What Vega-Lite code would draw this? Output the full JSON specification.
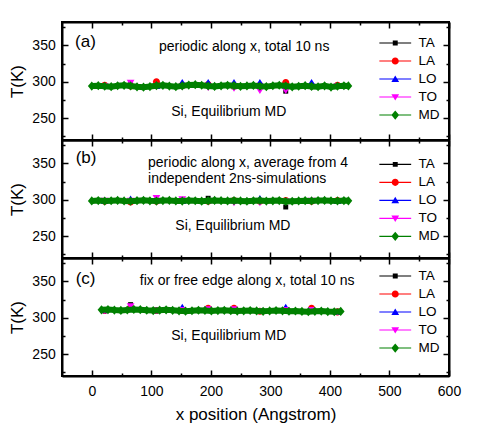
{
  "$schema": "https://vega.github.io/schema/vega-lite/v6.json",
  "background": "white",
  "padding": {"left": 7, "top": 20, "right": 5, "bottom": 5},
  "spacing": 0,
  "bounds": "flush",
  "datasets": {
    "a": [
      {"s":"TA","x":21.7,"T":294},{"s":"TA","x":65.2,"T":296},{"s":"TA","x":108.6,"T":295},{"s":"TA","x":152.0,"T":294},{"s":"TA","x":195.5,"T":295},{"s":"TA","x":238.9,"T":293},{"s":"TA","x":282.4,"T":294},{"s":"TA","x":325.8,"T":287},{"s":"TA","x":369.2,"T":295},{"s":"TA","x":412.7,"T":294},
      {"s":"LA","x":21.7,"T":295},{"s":"LA","x":65.2,"T":294},{"s":"LA","x":108.6,"T":300},{"s":"LA","x":152.0,"T":295},{"s":"LA","x":195.5,"T":296},{"s":"LA","x":238.9,"T":294},{"s":"LA","x":282.4,"T":295},{"s":"LA","x":325.8,"T":299},{"s":"LA","x":369.2,"T":294},{"s":"LA","x":412.7,"T":295},
      {"s":"LO","x":21.7,"T":294},{"s":"LO","x":65.2,"T":295},{"s":"LO","x":108.6,"T":294},{"s":"LO","x":152.0,"T":299},{"s":"LO","x":195.5,"T":299},{"s":"LO","x":238.9,"T":299},{"s":"LO","x":282.4,"T":299},{"s":"LO","x":325.8,"T":294},{"s":"LO","x":369.2,"T":299},{"s":"LO","x":412.7,"T":294},
      {"s":"TO","x":21.7,"T":294},{"s":"TO","x":65.2,"T":299},{"s":"TO","x":108.6,"T":294},{"s":"TO","x":152.0,"T":293},{"s":"TO","x":195.5,"T":292},{"s":"TO","x":238.9,"T":291},{"s":"TO","x":282.4,"T":288},{"s":"TO","x":325.8,"T":288},{"s":"TO","x":369.2,"T":293},{"s":"TO","x":412.7,"T":294},
      {"s":"MD","x":0,"T":294.0},{"s":"MD","x":10.9,"T":294.6},{"s":"MD","x":21.7,"T":293.8},{"s":"MD","x":32.6,"T":293.2},{"s":"MD","x":43.4,"T":294.5},{"s":"MD","x":54.3,"T":295.0},{"s":"MD","x":65.2,"T":294.2},{"s":"MD","x":76.0,"T":293.0},{"s":"MD","x":86.9,"T":292.5},{"s":"MD","x":97.7,"T":293.4},
      {"s":"MD","x":108.6,"T":294.6},{"s":"MD","x":119.5,"T":295.1},{"s":"MD","x":130.3,"T":294.0},{"s":"MD","x":141.2,"T":293.2},{"s":"MD","x":152.0,"T":294.3},{"s":"MD","x":162.9,"T":295.4},{"s":"MD","x":173.8,"T":295.9},{"s":"MD","x":184.6,"T":295.2},{"s":"MD","x":195.5,"T":294.1},{"s":"MD","x":206.3,"T":293.6},
      {"s":"MD","x":217.2,"T":294.4},{"s":"MD","x":228.1,"T":295.0},{"s":"MD","x":238.9,"T":294.6},{"s":"MD","x":249.8,"T":293.7},{"s":"MD","x":260.6,"T":294.2},{"s":"MD","x":271.5,"T":294.9},{"s":"MD","x":282.4,"T":293.8},{"s":"MD","x":293.2,"T":293.3},{"s":"MD","x":304.1,"T":294.5},{"s":"MD","x":314.9,"T":295.2},
      {"s":"MD","x":325.8,"T":294.1},{"s":"MD","x":336.7,"T":293.0},{"s":"MD","x":347.5,"T":293.8},{"s":"MD","x":358.4,"T":294.6},{"s":"MD","x":369.2,"T":293.6},{"s":"MD","x":380.1,"T":293.1},{"s":"MD","x":391.0,"T":294.3},{"s":"MD","x":401.8,"T":292.7},{"s":"MD","x":412.7,"T":293.8},{"s":"MD","x":423.5,"T":294.5},{"s":"MD","x":431.0,"T":294.2}
    ],
    "b": [
      {"s":"TA","x":21.7,"T":298},{"s":"TA","x":65.2,"T":299},{"s":"TA","x":108.6,"T":298},{"s":"TA","x":152.0,"T":299},{"s":"TA","x":195.5,"T":302},{"s":"TA","x":238.9,"T":298},{"s":"TA","x":282.4,"T":299},{"s":"TA","x":325.8,"T":290},{"s":"TA","x":369.2,"T":298},{"s":"TA","x":412.7,"T":298},
      {"s":"LA","x":21.7,"T":298},{"s":"LA","x":65.2,"T":297},{"s":"LA","x":108.6,"T":298},{"s":"LA","x":152.0,"T":299},{"s":"LA","x":195.5,"T":298},{"s":"LA","x":238.9,"T":299},{"s":"LA","x":282.4,"T":298},{"s":"LA","x":325.8,"T":299},{"s":"LA","x":369.2,"T":298},{"s":"LA","x":412.7,"T":299},
      {"s":"LO","x":21.7,"T":298},{"s":"LO","x":65.2,"T":301},{"s":"LO","x":108.6,"T":299},{"s":"LO","x":152.0,"T":298},{"s":"LO","x":195.5,"T":299},{"s":"LO","x":238.9,"T":299},{"s":"LO","x":282.4,"T":301.5},{"s":"LO","x":325.8,"T":298},{"s":"LO","x":369.2,"T":299},{"s":"LO","x":412.7,"T":298},
      {"s":"TO","x":21.7,"T":299},{"s":"TO","x":65.2,"T":299},{"s":"TO","x":108.6,"T":302.5},{"s":"TO","x":152.0,"T":301},{"s":"TO","x":195.5,"T":298},{"s":"TO","x":238.9,"T":296},{"s":"TO","x":282.4,"T":296},{"s":"TO","x":325.8,"T":298},{"s":"TO","x":369.2,"T":299},{"s":"TO","x":412.7,"T":298},
      {"s":"MD","x":0,"T":298.4},{"s":"MD","x":10.9,"T":298.9},{"s":"MD","x":21.7,"T":298.2},{"s":"MD","x":32.6,"T":298.6},{"s":"MD","x":43.4,"T":299.1},{"s":"MD","x":54.3,"T":298.3},{"s":"MD","x":65.2,"T":298.0},{"s":"MD","x":76.0,"T":298.7},{"s":"MD","x":86.9,"T":299.2},{"s":"MD","x":97.7,"T":298.5},
      {"s":"MD","x":108.6,"T":298.1},{"s":"MD","x":119.5,"T":298.8},{"s":"MD","x":130.3,"T":299.0},{"s":"MD","x":141.2,"T":298.4},{"s":"MD","x":152.0,"T":298.2},{"s":"MD","x":162.9,"T":298.9},{"s":"MD","x":173.8,"T":298.6},{"s":"MD","x":184.6,"T":298.0},{"s":"MD","x":195.5,"T":298.5},{"s":"MD","x":206.3,"T":299.1},
      {"s":"MD","x":217.2,"T":298.7},{"s":"MD","x":228.1,"T":298.3},{"s":"MD","x":238.9,"T":298.8},{"s":"MD","x":249.8,"T":298.4},{"s":"MD","x":260.6,"T":297.9},{"s":"MD","x":271.5,"T":298.6},{"s":"MD","x":282.4,"T":299.0},{"s":"MD","x":293.2,"T":298.2},{"s":"MD","x":304.1,"T":298.5},{"s":"MD","x":314.9,"T":298.8},
      {"s":"MD","x":325.8,"T":297.6},{"s":"MD","x":336.7,"T":297.9},{"s":"MD","x":347.5,"T":298.3},{"s":"MD","x":358.4,"T":298.7},{"s":"MD","x":369.2,"T":298.4},{"s":"MD","x":380.1,"T":298.9},{"s":"MD","x":391.0,"T":299.1},{"s":"MD","x":401.8,"T":298.6},{"s":"MD","x":412.7,"T":298.3},{"s":"MD","x":423.5,"T":298.8},{"s":"MD","x":431.0,"T":298.5}
    ],
    "c": [
      {"s":"TA","x":21.7,"T":310},{"s":"TA","x":65.2,"T":318},{"s":"TA","x":108.6,"T":310},{"s":"TA","x":152.0,"T":311},{"s":"TA","x":195.5,"T":311},{"s":"TA","x":238.9,"T":310},{"s":"TA","x":282.4,"T":310},{"s":"TA","x":325.8,"T":310},{"s":"TA","x":369.2,"T":309},{"s":"TA","x":412.7,"T":308},
      {"s":"LA","x":21.7,"T":310},{"s":"LA","x":65.2,"T":313},{"s":"LA","x":108.6,"T":310},{"s":"LA","x":152.0,"T":310},{"s":"LA","x":195.5,"T":313},{"s":"LA","x":238.9,"T":313},{"s":"LA","x":282.4,"T":309},{"s":"LA","x":325.8,"T":310},{"s":"LA","x":369.2,"T":313},{"s":"LA","x":412.7,"T":308},
      {"s":"LO","x":21.7,"T":310},{"s":"LO","x":65.2,"T":312},{"s":"LO","x":108.6,"T":310},{"s":"LO","x":152.0,"T":314.5},{"s":"LO","x":195.5,"T":311},{"s":"LO","x":238.9,"T":311},{"s":"LO","x":282.4,"T":309},{"s":"LO","x":325.8,"T":314.5},{"s":"LO","x":369.2,"T":310},{"s":"LO","x":412.7,"T":308},
      {"s":"TO","x":21.7,"T":310},{"s":"TO","x":65.2,"T":316},{"s":"TO","x":108.6,"T":310},{"s":"TO","x":152.0,"T":311},{"s":"TO","x":195.5,"T":312},{"s":"TO","x":238.9,"T":312},{"s":"TO","x":282.4,"T":309},{"s":"TO","x":325.8,"T":311},{"s":"TO","x":369.2,"T":311},{"s":"TO","x":412.7,"T":308},
      {"s":"MD","x":16.3,"T":310.8},{"s":"MD","x":27.2,"T":311.2},{"s":"MD","x":38.0,"T":310.5},{"s":"MD","x":48.9,"T":310.0},{"s":"MD","x":59.7,"T":310.6},{"s":"MD","x":70.6,"T":311.4},{"s":"MD","x":81.5,"T":311.0},{"s":"MD","x":92.3,"T":310.3},{"s":"MD","x":103.2,"T":309.8},{"s":"MD","x":114.0,"T":310.4},
      {"s":"MD","x":124.9,"T":310.9},{"s":"MD","x":135.8,"T":310.2},{"s":"MD","x":146.6,"T":309.5},{"s":"MD","x":157.5,"T":309.0},{"s":"MD","x":168.3,"T":309.6},{"s":"MD","x":179.2,"T":310.3},{"s":"MD","x":190.1,"T":310.0},{"s":"MD","x":200.9,"T":309.4},{"s":"MD","x":211.8,"T":309.8},{"s":"MD","x":222.6,"T":310.2},
      {"s":"MD","x":233.5,"T":309.6},{"s":"MD","x":244.4,"T":309.1},{"s":"MD","x":255.2,"T":309.5},{"s":"MD","x":266.1,"T":309.9},{"s":"MD","x":276.9,"T":309.3},{"s":"MD","x":287.8,"T":308.8},{"s":"MD","x":298.7,"T":309.4},{"s":"MD","x":309.5,"T":309.9},{"s":"MD","x":320.4,"T":309.5},{"s":"MD","x":331.2,"T":308.9},
      {"s":"MD","x":342.1,"T":309.2},{"s":"MD","x":353.0,"T":308.6},{"s":"MD","x":363.8,"T":308.2},{"s":"MD","x":374.7,"T":308.8},{"s":"MD","x":385.5,"T":309.1},{"s":"MD","x":396.4,"T":308.5},{"s":"MD","x":407.3,"T":308.2},{"s":"MD","x":418.1,"T":308.7}
    ]
  },
  "resolve": {"legend": {"color": "independent", "shape": "independent"}, "scale": {"color": "independent", "shape": "independent"}},
  "vconcat": [
    {
      "data": {"name": "a"},
      "width": 387, "height": 118,
      "layer": [
        {"layer": [
          {"encoding": {
             "x": {"field": "x", "type": "quantitative", "scale": {"domain": [-50, 600], "nice": false, "zero": false},
                   "axis": {"orient": "bottom", "values": [0,100,200,300,400,500,600], "labels": false, "title": null, "tickSize": -6}},
             "y": {"field": "T", "type": "quantitative", "scale": {"domain": [220, 382], "nice": false, "zero": false},
                   "axis": {"orient": "left", "values": [250,300,350], "tickSize": -6, "title": "T(K)", "labelPadding": 12.8, "titlePadding": 5}}
           },
           "layer": [
             {"transform": [{"filter": "datum.s === 'TA'"}], "mark": {"type": "point", "shape": "M-0.7,-0.7H0.7V0.7H-0.7Z", "color": "black", "filled": true, "opacity": 1, "size": 50, "strokeWidth": 0}},
             {"transform": [{"filter": "datum.s === 'LA'"}], "mark": {"type": "point", "shape": "M1,0A1,1,0,1,1,-1,0A1,1,0,1,1,1,0Z", "color": "#ff0000", "filled": true, "opacity": 1, "size": 50, "strokeWidth": 0}},
             {"transform": [{"filter": "datum.s === 'LO'"}], "mark": {"type": "point", "shape": "M0,-1L1.1,0.8H-1.1Z", "color": "#0000ff", "filled": true, "opacity": 1, "size": 50, "strokeWidth": 0}},
             {"transform": [{"filter": "datum.s === 'TO'"}], "mark": {"type": "point", "shape": "M0,1L-1.1,-0.8H1.1Z", "color": "#ff00ff", "filled": true, "opacity": 1, "size": 50, "strokeWidth": 0}},
             {"transform": [{"filter": "datum.s === 'MD'"}], "mark": {"type": "line", "color": "#008000", "strokeWidth": 6}, "encoding": {}},
             {"transform": [{"filter": "datum.s === 'MD'"}], "mark": {"type": "point", "shape": "M0,-1.3L1.1,0L0,1.3L-1.1,0Z", "color": "#008000", "filled": true, "opacity": 1, "size": 50, "strokeWidth": 0}},
             {"transform": [{"filter": "datum.s === 'none'"}],
              "mark": {"type": "point", "filled": true, "opacity": 1, "strokeWidth": 0},
              "encoding": {
                "color": {"field": "s", "type": "nominal", "scale": {"domain": ["TA","LA","LO","TO","MD"], "range": ["black","#ff0000","#0000ff","#ff00ff","#008000"]},
                          "legend": {"title": null, "orient": "none", "legendX": 326.5, "legendY": 14.3, "labelFont": "Liberation Sans", "labelFontSize": 13.5, "labelColor": "black", "labelOffset": 16.4, "symbolSize": 50, "symbolStrokeWidth": 0, "rowPadding": 3, "padding": 0}},
                "shape": {"field": "s", "type": "nominal", "scale": {"domain": ["TA","LA","LO","TO","MD"], "range": ["M-4.5,-0.15H4.5V0.15H-4.5Z M-0.7,-0.7H0.7V0.7H-0.7Z","M-4.5,-0.15H4.5V0.15H-4.5Z M1,0A1,1,0,1,1,-1,0A1,1,0,1,1,1,0Z","M-4.5,-0.15H4.5V0.15H-4.5Z M0,-1L1.1,0.8H-1.1Z","M-4.5,-0.15H4.5V0.15H-4.5Z M0,1L-1.1,-0.8H1.1Z","M-4.5,-0.15H4.5V0.15H-4.5Z M0,-1.3L1.1,0L0,1.3L-1.1,0Z"]}}
              }}
           ]},
          {"data": {"values": [{"t": "(a)"}]}, "mark": {"type": "text", "align": "left", "baseline": "middle", "fontSize": 17}, "encoding": {"x": {"datum": -28}, "y": {"datum": 354.5}, "text": {"field": "t"}}},
          {"data": {"values": [{"t": "periodic along x, total 10 ns"}]}, "mark": {"type": "text", "align": "center", "baseline": "middle", "fontSize": 14}, "encoding": {"x": {"datum": 256}, "y": {"datum": 347.7}, "text": {"field": "t"}}},
          {"data": {"values": [{"t": "Si, Equilibrium MD"}]}, "mark": {"type": "text", "align": "center", "baseline": "middle", "fontSize": 14}, "encoding": {"x": {"datum": 230}, "y": {"datum": 258.7}, "text": {"field": "t"}}}
        ]},
        {"mark": {"type": "point", "opacity": 0},
         "encoding": {
           "x": {"field": "x", "type": "quantitative", "axis": {"orient": "top", "values": [0,100,200,300,400,500,600], "labels": false, "title": null, "tickSize": -6}},
           "y": {"field": "T", "type": "quantitative", "axis": {"orient": "right", "values": [250,300,350], "labels": false, "title": null, "tickSize": -6}}
         }},
        {"mark": {"type": "point", "opacity": 0},
         "encoding": {
           "x": {"field": "x", "type": "quantitative", "axis": {"orient": "bottom", "values": [50,150,250,350,450,550], "labels": false, "title": null, "domain": false, "tickSize": -3}},
           "y": {"field": "T", "type": "quantitative", "axis": {"orient": "left", "values": [225,275,325,375], "labels": false, "title": null, "domain": false, "tickSize": -3}}
         }},
        {"mark": {"type": "point", "opacity": 0},
         "encoding": {
           "x": {"field": "x", "type": "quantitative", "axis": {"orient": "top", "values": [50,150,250,350,450,550], "labels": false, "title": null, "domain": false, "tickSize": -3}},
           "y": {"field": "T", "type": "quantitative", "axis": {"orient": "right", "values": [225,275,325,375], "labels": false, "title": null, "domain": false, "tickSize": -3}}
         }}
      ],
      "resolve": {"axis": {"x": "independent", "y": "independent"}}
    },
    {
      "data": {"name": "b"},
      "width": 387, "height": 118,
      "layer": [
        {"layer": [
          {"encoding": {
             "x": {"field": "x", "type": "quantitative", "scale": {"domain": [-50, 600], "nice": false, "zero": false},
                   "axis": {"orient": "bottom", "values": [0,100,200,300,400,500,600], "labels": false, "title": null, "tickSize": -6}},
             "y": {"field": "T", "type": "quantitative", "scale": {"domain": [220, 382], "nice": false, "zero": false},
                   "axis": {"orient": "left", "values": [250,300,350], "tickSize": -6, "title": "T(K)", "labelPadding": 12.8, "titlePadding": 5}}
           },
           "layer": [
             {"transform": [{"filter": "datum.s === 'TA'"}], "mark": {"type": "point", "shape": "M-0.7,-0.7H0.7V0.7H-0.7Z", "color": "black", "filled": true, "opacity": 1, "size": 50, "strokeWidth": 0}},
             {"transform": [{"filter": "datum.s === 'LA'"}], "mark": {"type": "point", "shape": "M1,0A1,1,0,1,1,-1,0A1,1,0,1,1,1,0Z", "color": "#ff0000", "filled": true, "opacity": 1, "size": 50, "strokeWidth": 0}},
             {"transform": [{"filter": "datum.s === 'LO'"}], "mark": {"type": "point", "shape": "M0,-1L1.1,0.8H-1.1Z", "color": "#0000ff", "filled": true, "opacity": 1, "size": 50, "strokeWidth": 0}},
             {"transform": [{"filter": "datum.s === 'TO'"}], "mark": {"type": "point", "shape": "M0,1L-1.1,-0.8H1.1Z", "color": "#ff00ff", "filled": true, "opacity": 1, "size": 50, "strokeWidth": 0}},
             {"transform": [{"filter": "datum.s === 'MD'"}], "mark": {"type": "line", "color": "#008000", "strokeWidth": 6}, "encoding": {}},
             {"transform": [{"filter": "datum.s === 'MD'"}], "mark": {"type": "point", "shape": "M0,-1.3L1.1,0L0,1.3L-1.1,0Z", "color": "#008000", "filled": true, "opacity": 1, "size": 50, "strokeWidth": 0}},
             {"transform": [{"filter": "datum.s === 'none'"}],
              "mark": {"type": "point", "filled": true, "opacity": 1, "strokeWidth": 0},
              "encoding": {
                "color": {"field": "s", "type": "nominal", "scale": {"domain": ["TA","LA","LO","TO","MD"], "range": ["black","#ff0000","#0000ff","#ff00ff","#008000"]},
                          "legend": {"title": null, "orient": "none", "legendX": 326.5, "legendY": 17.6, "labelFont": "Liberation Sans", "labelFontSize": 13.5, "labelColor": "black", "labelOffset": 16.4, "symbolSize": 50, "symbolStrokeWidth": 0, "rowPadding": 3, "padding": 0}},
                "shape": {"field": "s", "type": "nominal", "scale": {"domain": ["TA","LA","LO","TO","MD"], "range": ["M-4.5,-0.15H4.5V0.15H-4.5Z M-0.7,-0.7H0.7V0.7H-0.7Z","M-4.5,-0.15H4.5V0.15H-4.5Z M1,0A1,1,0,1,1,-1,0A1,1,0,1,1,1,0Z","M-4.5,-0.15H4.5V0.15H-4.5Z M0,-1L1.1,0.8H-1.1Z","M-4.5,-0.15H4.5V0.15H-4.5Z M0,1L-1.1,-0.8H1.1Z","M-4.5,-0.15H4.5V0.15H-4.5Z M0,-1.3L1.1,0L0,1.3L-1.1,0Z"]}}
              }}
           ]},
          {"data": {"values": [{"t": "(b)"}]}, "mark": {"type": "text", "align": "left", "baseline": "middle", "fontSize": 17}, "encoding": {"x": {"datum": -27}, "y": {"datum": 356.8}, "text": {"field": "t"}}},
          {"data": {"values": [{"t": "periodic along x, average from 4"}]}, "mark": {"type": "text", "align": "left", "baseline": "middle", "fontSize": 14}, "encoding": {"x": {"datum": 94.5}, "y": {"datum": 350}, "text": {"field": "t"}}},
          {"data": {"values": [{"t": "independent 2ns-simulations"}]}, "mark": {"type": "text", "align": "left", "baseline": "middle", "fontSize": 14}, "encoding": {"x": {"datum": 94.5}, "y": {"datum": 328.7}, "text": {"field": "t"}}},
          {"data": {"values": [{"t": "Si, Equilibrium MD"}]}, "mark": {"type": "text", "align": "center", "baseline": "middle", "fontSize": 14}, "encoding": {"x": {"datum": 237}, "y": {"datum": 263.5}, "text": {"field": "t"}}}
        ]},
        {"mark": {"type": "point", "opacity": 0},
         "encoding": {
           "x": {"field": "x", "type": "quantitative", "axis": {"orient": "top", "values": [0,100,200,300,400,500,600], "labels": false, "title": null, "tickSize": -6}},
           "y": {"field": "T", "type": "quantitative", "axis": {"orient": "right", "values": [250,300,350], "labels": false, "title": null, "tickSize": -6}}
         }},
        {"mark": {"type": "point", "opacity": 0},
         "encoding": {
           "x": {"field": "x", "type": "quantitative", "axis": {"orient": "bottom", "values": [50,150,250,350,450,550], "labels": false, "title": null, "domain": false, "tickSize": -3}},
           "y": {"field": "T", "type": "quantitative", "axis": {"orient": "left", "values": [225,275,325,375], "labels": false, "title": null, "domain": false, "tickSize": -3}}
         }},
        {"mark": {"type": "point", "opacity": 0},
         "encoding": {
           "x": {"field": "x", "type": "quantitative", "axis": {"orient": "top", "values": [50,150,250,350,450,550], "labels": false, "title": null, "domain": false, "tickSize": -3}},
           "y": {"field": "T", "type": "quantitative", "axis": {"orient": "right", "values": [225,275,325,375], "labels": false, "title": null, "domain": false, "tickSize": -3}}
         }}
      ],
      "resolve": {"axis": {"x": "independent", "y": "independent"}}
    },
    {
      "data": {"name": "c"},
      "width": 387, "height": 118,
      "layer": [
        {"layer": [
          {"encoding": {
             "x": {"field": "x", "type": "quantitative", "scale": {"domain": [-50, 600], "nice": false, "zero": false},
                   "axis": {"orient": "bottom", "values": [0,100,200,300,400,500,600], "title": "x position (Angstrom)", "labelPadding": 14, "titlePadding": 8.5, "tickSize": -6}},
             "y": {"field": "T", "type": "quantitative", "scale": {"domain": [220, 382], "nice": false, "zero": false},
                   "axis": {"orient": "left", "values": [250,300,350], "tickSize": -6, "title": "T(K)", "labelPadding": 12.8, "titlePadding": 5}}
           },
           "layer": [
             {"transform": [{"filter": "datum.s === 'TA'"}], "mark": {"type": "point", "shape": "M-0.7,-0.7H0.7V0.7H-0.7Z", "color": "black", "filled": true, "opacity": 1, "size": 50, "strokeWidth": 0}},
             {"transform": [{"filter": "datum.s === 'LA'"}], "mark": {"type": "point", "shape": "M1,0A1,1,0,1,1,-1,0A1,1,0,1,1,1,0Z", "color": "#ff0000", "filled": true, "opacity": 1, "size": 50, "strokeWidth": 0}},
             {"transform": [{"filter": "datum.s === 'LO'"}], "mark": {"type": "point", "shape": "M0,-1L1.1,0.8H-1.1Z", "color": "#0000ff", "filled": true, "opacity": 1, "size": 50, "strokeWidth": 0}},
             {"transform": [{"filter": "datum.s === 'TO'"}], "mark": {"type": "point", "shape": "M0,1L-1.1,-0.8H1.1Z", "color": "#ff00ff", "filled": true, "opacity": 1, "size": 50, "strokeWidth": 0}},
             {"transform": [{"filter": "datum.s === 'MD'"}], "mark": {"type": "line", "color": "#008000", "strokeWidth": 6}, "encoding": {}},
             {"transform": [{"filter": "datum.s === 'MD'"}], "mark": {"type": "point", "shape": "M0,-1.3L1.1,0L0,1.3L-1.1,0Z", "color": "#008000", "filled": true, "opacity": 1, "size": 50, "strokeWidth": 0}},
             {"transform": [{"filter": "datum.s === 'none'"}],
              "mark": {"type": "point", "filled": true, "opacity": 1, "strokeWidth": 0},
              "encoding": {
                "color": {"field": "s", "type": "nominal", "scale": {"domain": ["TA","LA","LO","TO","MD"], "range": ["black","#ff0000","#0000ff","#ff00ff","#008000"]},
                          "legend": {"title": null, "orient": "none", "legendX": 326.5, "legendY": 11.3, "labelFont": "Liberation Sans", "labelFontSize": 13.5, "labelColor": "black", "labelOffset": 16.4, "symbolSize": 50, "symbolStrokeWidth": 0, "rowPadding": 3, "padding": 0}},
                "shape": {"field": "s", "type": "nominal", "scale": {"domain": ["TA","LA","LO","TO","MD"], "range": ["M-4.5,-0.15H4.5V0.15H-4.5Z M-0.7,-0.7H0.7V0.7H-0.7Z","M-4.5,-0.15H4.5V0.15H-4.5Z M1,0A1,1,0,1,1,-1,0A1,1,0,1,1,1,0Z","M-4.5,-0.15H4.5V0.15H-4.5Z M0,-1L1.1,0.8H-1.1Z","M-4.5,-0.15H4.5V0.15H-4.5Z M0,1L-1.1,-0.8H1.1Z","M-4.5,-0.15H4.5V0.15H-4.5Z M0,-1.3L1.1,0L0,1.3L-1.1,0Z"]}}
              }}
           ]},
          {"data": {"values": [{"t": "(c)"}]}, "mark": {"type": "text", "align": "left", "baseline": "middle", "fontSize": 17}, "encoding": {"x": {"datum": -27}, "y": {"datum": 353}, "text": {"field": "t"}}},
          {"data": {"values": [{"t": "fix or free edge along x, total 10 ns"}]}, "mark": {"type": "text", "align": "center", "baseline": "middle", "fontSize": 14}, "encoding": {"x": {"datum": 261}, "y": {"datum": 351}, "text": {"field": "t"}}},
          {"data": {"values": [{"t": "Si, Equilibrium MD"}]}, "mark": {"type": "text", "align": "center", "baseline": "middle", "fontSize": 14}, "encoding": {"x": {"datum": 230}, "y": {"datum": 275}, "text": {"field": "t"}}}
        ]},
        {"mark": {"type": "point", "opacity": 0},
         "encoding": {
           "x": {"field": "x", "type": "quantitative", "axis": {"orient": "top", "values": [0,100,200,300,400,500,600], "labels": false, "title": null, "tickSize": -6}},
           "y": {"field": "T", "type": "quantitative", "axis": {"orient": "right", "values": [250,300,350], "labels": false, "title": null, "tickSize": -6}}
         }},
        {"mark": {"type": "point", "opacity": 0},
         "encoding": {
           "x": {"field": "x", "type": "quantitative", "axis": {"orient": "bottom", "values": [50,150,250,350,450,550], "labels": false, "title": null, "domain": false, "tickSize": -3}},
           "y": {"field": "T", "type": "quantitative", "axis": {"orient": "left", "values": [225,275,325,375], "labels": false, "title": null, "domain": false, "tickSize": -3}}
         }},
        {"mark": {"type": "point", "opacity": 0},
         "encoding": {
           "x": {"field": "x", "type": "quantitative", "axis": {"orient": "top", "values": [50,150,250,350,450,550], "labels": false, "title": null, "domain": false, "tickSize": -3}},
           "y": {"field": "T", "type": "quantitative", "axis": {"orient": "right", "values": [225,275,325,375], "labels": false, "title": null, "domain": false, "tickSize": -3}}
         }}
      ],
      "resolve": {"axis": {"x": "independent", "y": "independent"}}
    }
  ],
  "config": {
    "font": "Liberation Sans",
    "view": {"stroke": "black", "strokeWidth": 2},
    "axis": {"grid": false, "domainColor": "black", "domainWidth": 2, "tickColor": "black", "tickWidth": 1.5, "labelColor": "black", "labelFontSize": 14, "labelFont": "Liberation Sans", "titleFont": "Liberation Sans", "titleFontSize": 17, "titleFontWeight": "normal", "titleColor": "black", "labelFlush": false, "labelOverlap": false},
    "text": {"font": "Liberation Sans", "color": "black"}
  }
}
